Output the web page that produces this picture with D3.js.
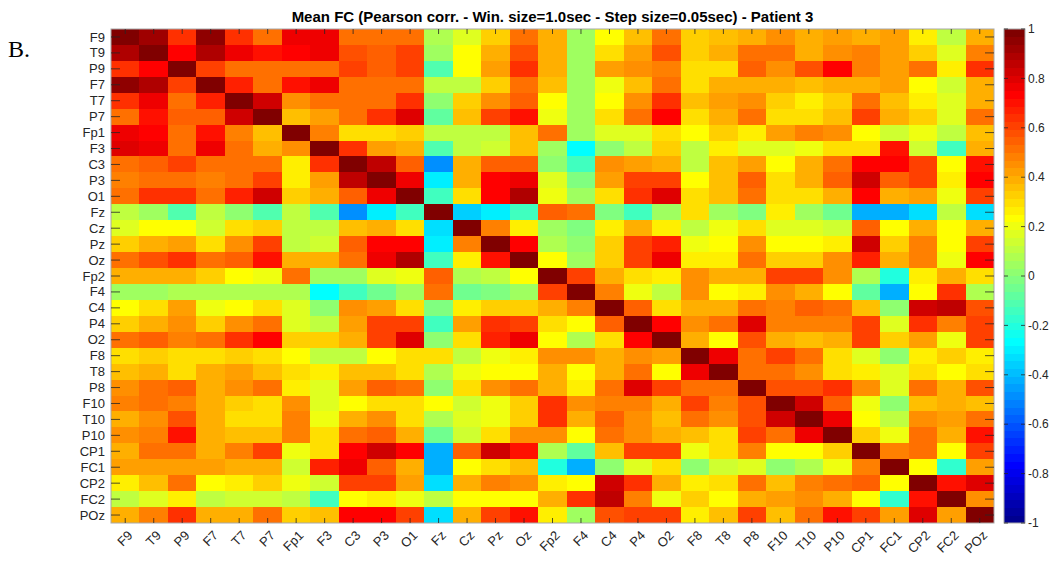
<!DOCTYPE html>
<html><head><meta charset="utf-8">
<script src="https://cdn.jsdelivr.net/npm/d3@7"></script>
<style>
html,body{margin:0;padding:0;background:#fff;}
svg{display:block;font-family:"Liberation Sans",Arial,Helvetica,sans-serif;}
</style></head>
<body>
<svg id="chart" width="1049" height="562"></svg>
<script>
const channels = ["F9","T9","P9","F7","T7","P7","Fp1","F3","C3","P3","O1","Fz","Cz","Pz","Oz","Fp2","F4","C4","P4","O2","F8","T8","P8","F10","T10","P10","CP1","FC1","CP2","FC2","POz"];
const colorbarTicks = [1,0.8,0.6,0.4,0.2,0,-0.2,-0.4,-0.6,-0.8,-1];
const titleText = "Mean FC (Pearson corr. - Win. size=1.0sec - Step size=0.05sec) - Patient 3";
const panelLabel = "B.";
// Mean functional connectivity matrix (rows follow channels order)
const fcValues = [
[1.0,0.92,0.65,0.95,0.65,0.53,0.75,0.78,0.5,0.5,0.5,0.07,0.17,0.33,0.53,0.4,0.05,0.23,0.35,0.5,0.32,0.35,0.4,0.45,0.38,0.43,0.38,0.43,0.27,0.12,0.38],
[0.9,1.0,0.72,0.88,0.77,0.7,0.72,0.77,0.58,0.56,0.6,0.05,0.23,0.4,0.58,0.4,0.05,0.3,0.43,0.58,0.32,0.4,0.53,0.5,0.4,0.45,0.48,0.43,0.33,0.17,0.48],
[0.65,0.72,1.0,0.62,0.53,0.53,0.53,0.53,0.62,0.56,0.6,-0.1,0.23,0.43,0.65,0.38,0.05,0.43,0.45,0.48,0.3,0.3,0.56,0.45,0.58,0.72,0.48,0.43,0.53,0.27,0.65],
[0.95,0.9,0.62,1.0,0.67,0.53,0.7,0.77,0.53,0.5,0.5,0.12,0.12,0.33,0.53,0.35,0.05,0.2,0.35,0.53,0.3,0.38,0.38,0.38,0.36,0.38,0.38,0.43,0.23,0.14,0.38],
[0.65,0.78,0.53,0.67,1.0,0.83,0.45,0.53,0.5,0.5,0.65,0.03,0.33,0.45,0.56,0.23,0.05,0.23,0.45,0.65,0.36,0.43,0.45,0.33,0.27,0.33,0.5,0.36,0.25,0.17,0.38],
[0.53,0.7,0.56,0.56,0.83,1.0,0.36,0.43,0.53,0.65,0.8,-0.08,0.36,0.6,0.7,0.2,0.05,0.3,0.5,0.72,0.3,0.38,0.5,0.3,0.3,0.36,0.62,0.38,0.33,0.17,0.5],
[0.78,0.73,0.5,0.7,0.48,0.36,1.0,0.48,0.29,0.29,0.33,0.1,0.12,0.12,0.36,0.5,0.05,0.17,0.17,0.3,0.23,0.33,0.27,0.43,0.48,0.45,0.22,0.14,0.2,0.12,0.36],
[0.8,0.78,0.5,0.78,0.53,0.38,0.45,1.0,0.65,0.43,0.38,-0.1,0.12,0.14,0.36,0.05,-0.27,0.02,0.1,0.33,0.1,0.27,0.17,0.17,0.2,0.3,0.3,0.7,0.14,-0.15,0.38],
[0.5,0.56,0.62,0.5,0.5,0.5,0.27,0.65,1.0,0.86,0.56,-0.5,0.38,0.56,0.56,0.03,-0.14,0.45,0.43,0.38,0.12,0.36,0.43,0.23,0.38,0.53,0.72,0.72,0.6,0.23,0.7],
[0.48,0.53,0.53,0.48,0.53,0.62,0.27,0.43,0.86,1.0,0.78,-0.3,0.4,0.73,0.78,0.17,-0.02,0.43,0.6,0.6,0.23,0.36,0.56,0.3,0.4,0.56,0.83,0.56,0.6,0.27,0.72],
[0.5,0.65,0.65,0.53,0.67,0.82,0.33,0.38,0.56,0.78,1.0,-0.15,0.3,0.73,0.88,0.2,0.05,0.3,0.65,0.8,0.3,0.36,0.5,0.3,0.3,0.38,0.72,0.4,0.43,0.2,0.62],
[0.1,0.05,-0.1,0.12,0.02,-0.12,0.1,-0.1,-0.5,-0.3,-0.15,1.0,-0.36,-0.3,-0.15,0.56,0.53,-0.02,-0.14,0.05,0.3,0.05,-0.02,0.25,0.05,-0.05,-0.42,-0.42,-0.33,0.1,-0.33],
[0.17,0.23,0.23,0.14,0.3,0.34,0.12,0.12,0.37,0.39,0.3,-0.33,1.0,0.48,0.27,0.05,-0.02,0.27,0.4,0.27,0.12,0.2,0.3,0.17,0.17,0.14,0.56,0.23,0.4,0.23,0.38],
[0.32,0.4,0.43,0.3,0.45,0.62,0.12,0.15,0.56,0.73,0.73,-0.3,0.48,1.0,0.72,0.07,0.0,0.33,0.62,0.68,0.2,0.23,0.45,0.22,0.22,0.27,0.83,0.33,0.48,0.23,0.62],
[0.53,0.58,0.65,0.53,0.56,0.7,0.38,0.38,0.53,0.78,0.9,-0.15,0.28,0.7,1.0,0.23,0.05,0.33,0.62,0.78,0.27,0.25,0.53,0.33,0.33,0.45,0.68,0.38,0.48,0.2,0.72],
[0.4,0.4,0.38,0.34,0.23,0.2,0.53,0.05,0.05,0.17,0.2,0.56,0.07,0.12,0.23,1.0,0.6,0.4,0.3,0.25,0.45,0.38,0.38,0.62,0.62,0.45,0.07,-0.2,0.27,0.38,0.3],
[0.05,0.05,0.07,0.07,0.07,0.07,0.07,-0.27,-0.15,-0.05,0.05,0.53,-0.05,-0.03,0.05,0.6,1.0,0.48,0.2,0.1,0.45,0.23,0.27,0.45,0.4,0.23,-0.08,-0.42,0.23,0.65,0.07],
[0.23,0.3,0.43,0.2,0.23,0.3,0.17,0.03,0.45,0.43,0.3,-0.02,0.27,0.33,0.33,0.4,0.48,1.0,0.56,0.3,0.4,0.38,0.53,0.48,0.56,0.5,0.36,0.0,0.83,0.86,0.58],
[0.33,0.4,0.45,0.33,0.45,0.53,0.17,0.12,0.43,0.62,0.62,-0.13,0.43,0.65,0.62,0.3,0.22,0.56,1.0,0.73,0.45,0.5,0.8,0.48,0.48,0.48,0.62,0.17,0.65,0.48,0.6],
[0.5,0.56,0.48,0.53,0.65,0.72,0.33,0.33,0.38,0.62,0.8,0.03,0.3,0.68,0.78,0.23,0.07,0.3,0.73,1.0,0.4,0.23,0.58,0.38,0.36,0.38,0.62,0.33,0.43,0.2,0.6],
[0.3,0.32,0.3,0.3,0.32,0.3,0.23,0.12,0.12,0.23,0.3,0.3,0.12,0.2,0.27,0.45,0.45,0.38,0.45,0.43,1.0,0.78,0.5,0.62,0.53,0.3,0.17,0.0,0.27,0.33,0.27],
[0.35,0.4,0.3,0.38,0.43,0.37,0.3,0.27,0.35,0.35,0.3,0.07,0.2,0.23,0.23,0.38,0.23,0.38,0.5,0.23,0.78,1.0,0.5,0.5,0.45,0.3,0.27,0.17,0.3,0.23,0.3],
[0.45,0.53,0.56,0.4,0.45,0.5,0.28,0.17,0.43,0.56,0.5,0.0,0.3,0.45,0.53,0.38,0.27,0.53,0.8,0.62,0.5,0.5,1.0,0.58,0.58,0.65,0.45,0.17,0.53,0.38,0.58],
[0.48,0.5,0.48,0.4,0.33,0.3,0.45,0.17,0.23,0.3,0.3,0.23,0.14,0.2,0.33,0.65,0.45,0.48,0.48,0.38,0.62,0.48,0.58,1.0,0.83,0.56,0.2,0.03,0.36,0.4,0.36],
[0.4,0.45,0.58,0.38,0.3,0.3,0.48,0.2,0.4,0.45,0.3,0.07,0.17,0.2,0.33,0.65,0.4,0.56,0.45,0.35,0.5,0.45,0.58,0.83,1.0,0.78,0.23,0.1,0.45,0.43,0.53],
[0.45,0.48,0.7,0.4,0.35,0.35,0.48,0.3,0.5,0.56,0.4,-0.05,0.14,0.3,0.45,0.45,0.23,0.5,0.45,0.4,0.35,0.3,0.62,0.53,0.78,1.0,0.33,0.2,0.5,0.38,0.7],
[0.4,0.5,0.5,0.4,0.48,0.62,0.2,0.3,0.73,0.83,0.72,-0.42,0.56,0.83,0.7,0.07,-0.08,0.36,0.62,0.62,0.2,0.3,0.48,0.22,0.23,0.33,1.0,0.48,0.53,0.23,0.6],
[0.43,0.43,0.43,0.43,0.38,0.38,0.14,0.68,0.75,0.56,0.4,-0.42,0.23,0.3,0.35,-0.2,-0.42,0.0,0.17,0.3,0.0,0.14,0.17,0.0,0.07,0.2,0.48,1.0,0.23,-0.17,0.43],
[0.27,0.35,0.53,0.23,0.27,0.32,0.2,0.14,0.6,0.6,0.43,-0.33,0.4,0.48,0.45,0.27,0.23,0.83,0.65,0.4,0.27,0.3,0.53,0.36,0.48,0.53,0.56,0.23,1.0,0.7,0.8],
[0.1,0.17,0.27,0.12,0.14,0.14,0.1,-0.13,0.23,0.27,0.2,0.1,0.23,0.23,0.22,0.4,0.65,0.86,0.48,0.2,0.33,0.23,0.4,0.43,0.45,0.38,0.23,-0.17,0.7,1.0,0.45],
[0.4,0.48,0.65,0.4,0.4,0.5,0.33,0.35,0.72,0.72,0.62,-0.33,0.38,0.62,0.7,0.27,0.05,0.58,0.6,0.6,0.27,0.36,0.62,0.36,0.53,0.7,0.62,0.43,0.8,0.43,1.0]
];

// MATLAB jet(64) colormap
function jet(n){
  const m = Math.ceil(n/4);
  const u = [];
  for(let i=1;i<=m;i++) u.push(i/m);
  for(let i=1;i<m;i++) u.push(1);
  for(let i=m;i>=1;i--) u.push(i/m);
  const g0 = Math.ceil(m/2) - (n%4===1?1:0);
  const R=new Array(n).fill(0),G=new Array(n).fill(0),B=new Array(n).fill(0);
  for(let k=0;k<u.length;k++){
    const g=g0+k+1, r=g+m, b=g-m;
    if(g>=1&&g<=n) G[g-1]=u[k];
    if(r>=1&&r<=n) R[r-1]=u[k];
    if(b>=1&&b<=n) B[b-1]=u[k];
  }
  return d3.range(n).map(i=>d3.rgb(R[i]*255,G[i]*255,B[i]*255).formatHex());
}
const cmap = jet(64);
const colorIndex = d3.scaleQuantize().domain([-1,1]).range(d3.range(64));
const color = v => cmap[colorIndex(Math.max(-1,Math.min(1,v)))];

const svg = d3.select("#chart");
const X0=111, X1=994, Y0=29, Y1=523;
const x = d3.scaleBand().domain(channels).range([X0,X1]).padding(0);
const y = d3.scaleBand().domain(channels).range([Y0,Y1]).padding(0);

const cells = [];
fcValues.forEach((row,i)=>row.forEach((v,j)=>cells.push({r:channels[i],c:channels[j],v})));
svg.append("g").selectAll("rect").data(cells).join("rect")
  .attr("x",d=>x(d.c)).attr("y",d=>y(d.r))
  .attr("width",x.bandwidth()+0.4).attr("height",y.bandwidth()+0.4)
  .attr("fill",d=>color(d.v)).attr("shape-rendering","crispEdges");

const axisCol="#262626", tl=5;
svg.append("rect").attr("x",X0).attr("y",Y0).attr("width",X1-X0).attr("height",Y1-Y0)
  .attr("fill","none").attr("stroke","#a8a8a8").attr("stroke-width",1);

const tg = svg.append("g").attr("stroke",axisCol).attr("stroke-width",0.8);
channels.forEach(ch=>{
  const cx = x(ch)+x.bandwidth()/2, cy = y(ch)+y.bandwidth()/2;
  tg.append("line").attr("x1",cx).attr("x2",cx).attr("y1",Y0).attr("y2",Y0+tl);
  tg.append("line").attr("x1",cx).attr("x2",cx).attr("y1",Y1).attr("y2",Y1-tl);
  tg.append("line").attr("y1",cy).attr("y2",cy).attr("x1",X0).attr("x2",X0+tl*1.8);
  tg.append("line").attr("y1",cy).attr("y2",cy).attr("x1",X1).attr("x2",X1-tl*1.8);
});

svg.append("g").selectAll("text").data(channels).join("text")
  .attr("x",X0-6).attr("y",d=>y(d)+y.bandwidth()/2).attr("dy","0.35em")
  .attr("text-anchor","end").attr("font-size",13).attr("fill",axisCol).text(d=>d);

svg.append("g").selectAll("text").data(channels).join("text")
  .attr("transform",d=>`translate(${x(d)+x.bandwidth()/2+5},${Y1+10}) rotate(-45)`)
  .attr("text-anchor","end").attr("dy","0.35em")
  .attr("font-size",13).attr("fill",axisCol).text(d=>d);

svg.append("text").attr("x",(X0+X1)/2).attr("y",22).attr("text-anchor","middle")
  .attr("font-size",15).attr("font-weight","bold").attr("fill","#000").text(titleText);

svg.append("text").attr("x",8).attr("y",57).attr("font-family","'Liberation Serif','Times New Roman',serif")
  .attr("font-size",24).attr("fill","#000").text(panelLabel);

// colorbar
const CBX=1004, CBW=21;
const cy = d3.scaleLinear().domain([-1,1]).range([Y1,Y0]);
const bands = d3.range(64);
svg.append("g").selectAll("rect").data(bands).join("rect")
  .attr("x",CBX).attr("width",CBW)
  .attr("y",i=>cy(-1+(i+1)*2/64)).attr("height",i=>cy(-1+i*2/64)-cy(-1+(i+1)*2/64)+0.4)
  .attr("fill",i=>cmap[i]).attr("shape-rendering","crispEdges");
svg.append("rect").attr("x",CBX).attr("y",Y0).attr("width",CBW).attr("height",Y1-Y0)
  .attr("fill","none").attr("stroke","#a8a8a8").attr("stroke-width",1);
const cbt = svg.append("g");
colorbarTicks.forEach(t=>{
  cbt.append("line").attr("x1",CBX+CBW-4).attr("x2",CBX+CBW).attr("y1",cy(t)).attr("y2",cy(t)).attr("stroke",axisCol).attr("stroke-width",0.8);
  cbt.append("line").attr("x1",CBX).attr("x2",CBX+4).attr("y1",cy(t)).attr("y2",cy(t)).attr("stroke",axisCol).attr("stroke-width",0.8);
});
cbt.selectAll("text").data(colorbarTicks).join("text")
  .attr("x",CBX+CBW+3).attr("y",d=>cy(d)).attr("dy","0.35em")
  .attr("font-size",12).attr("fill",axisCol).text(d=>String(d));
</script>
</body></html>
